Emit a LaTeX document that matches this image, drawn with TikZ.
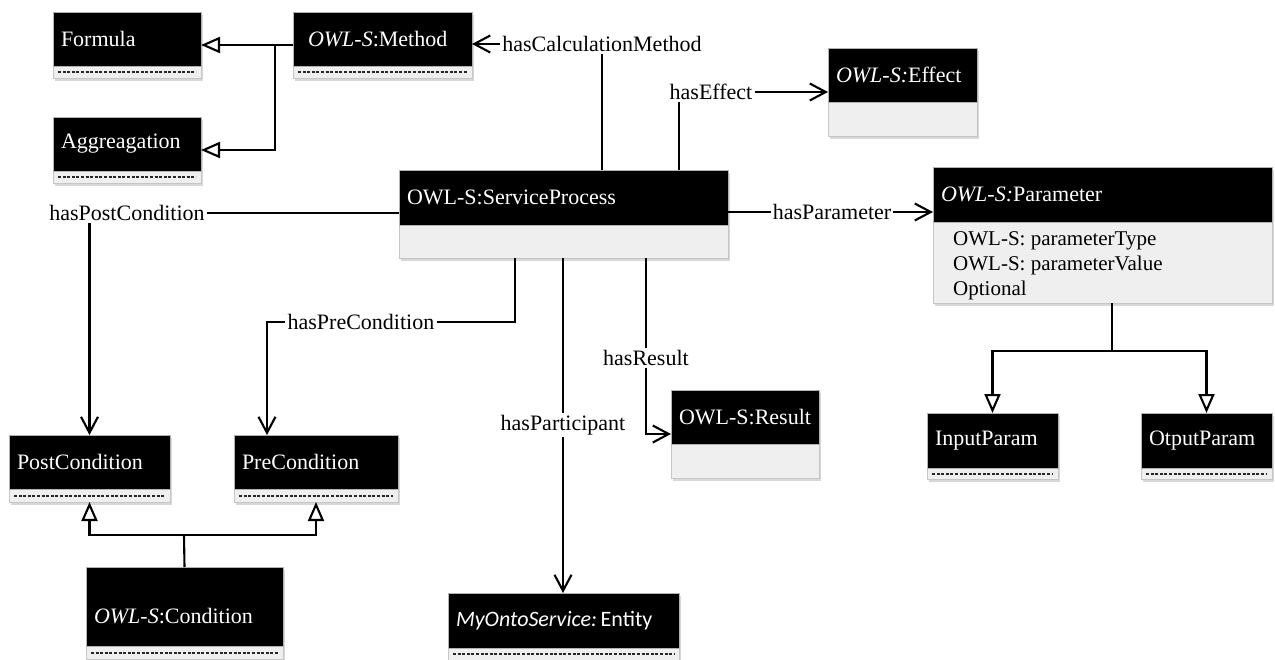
\documentclass[tikz,border=0pt]{standalone}
\usepackage{fontspec}
\setmainfont{Liberation Serif}
\newfontfamily\calibrifont{Carlito}
\usetikzlibrary{arrows.meta,shadows}

\definecolor{compfill}{HTML}{EFEFEF}

\tikzset{
  classbox/.style={draw=gray!45, line width=0.8pt, fill=compfill, inner sep=0pt, outer sep=0pt,
    drop shadow={shadow xshift=1.5pt, shadow yshift=-2.5pt, opacity=0.3}},
  classhead/.style={fill=black, draw=gray!60, line width=0.8pt, text=white, outer sep=0pt,
    inner ysep=0pt, align=left, font=\fontsize{22}{26}\selectfont},
  headextra/.style={},
  dashrow/.style={draw=black!85, line width=2pt, dash pattern=on 3pt off 1.6pt},
  conn/.style={draw=black, line width=2.1pt},
  assoc/.style={conn, -{Straight Barb[length=16pt,width=17pt]}},
  gen/.style={conn, -{Triangle[open,length=19pt,width=16pt,fill=white]}},
  rolelabel/.style={font=\fontsize{22}{26}\selectfont, inner sep=2pt, text=black},
  attrtext/.style={font=\fontsize{21}{25}\selectfont, inner sep=0pt, align=left, anchor=north west},
}

% class box: [title inset]{name}{x}{y}{width}{header height}{compartment height}{title}
\newcommand\umlclass[8][8]{%
  \pgfmathsetmacro\umlboxh{#6+#7}%
  \pgfmathsetmacro\umltextw{#5-2*#1}%
  \node[classbox, minimum width=#5pt, minimum height=\umlboxh pt, anchor=north west] (#2) at (#3,#4) {};
  \node[classhead, headextra, minimum width=#5pt, minimum height=#6pt, text width=\umltextw pt,
    inner xsep=#1pt, anchor=north west] (#2-h) at (#2.north west) {#8};
  \node[inner sep=0pt, outer sep=0pt, minimum width=#5pt, minimum height=#7pt,
    anchor=north west] (#2-c) at (#2-h.south west) {};
}
% empty attribute compartment drawn as a dashed rule
\newcommand\dashrow[1]{\draw[dashrow] ([xshift=5pt]#1-c.west) -- ([xshift=-5pt]#1-c.east);}

\begin{document}
\begin{tikzpicture}[x=1pt,y=-1pt]
\useasboundingbox (0,0) rectangle (1275,659);
\fill[white] (0,0) rectangle (1275,659);

% classes
\umlclass{formula}{53}{12}{148}{54}{12}{Formula}
\umlclass[15]{method}{293}{12}{179}{54}{12}{\textit{OWL-S}:Method}
\umlclass{aggregation}{53}{117}{148}{54}{12}{Aggreagation}
\umlclass{effect}{828}{48}{149}{54}{34}{\textit{OWL-S:}Effect}
\umlclass{sp}{399}{170}{329}{55}{33}{OWL-S:ServiceProcess}
\umlclass{param}{933}{167}{339}{55}{81}{\textit{OWL-S:}Parameter}
\umlclass{result}{671}{390}{148}{54}{34}{OWL-S:Result}
\umlclass{postcond}{9}{435}{161}{54}{13}{PostCondition}
\umlclass{precond}{234}{435}{164}{54}{13}{PreCondition}
\begin{scope}[headextra/.style={text height=38pt, text depth=4pt}]
\umlclass{condition}{86}{567}{197}{79}{13}{\textit{OWL-S}:Condition}
\end{scope}
\umlclass{entity}{448}{593}{231}{55}{12}{\calibrifont\textit{MyOntoService:}\,Entity}
\umlclass{input}{927}{413}{131}{55}{11}{InputParam}
\umlclass{output}{1141}{413}{131}{55}{11}{OtputParam}

\dashrow{formula}
\dashrow{method}
\dashrow{aggregation}
\dashrow{postcond}
\dashrow{precond}
\dashrow{condition}
\dashrow{entity}
\dashrow{input}
\dashrow{output}

% attributes of Parameter
\node[attrtext] (param-attr) at ([xshift=20pt, yshift=-9pt]param-c.north west)
  {OWL-S: parameterType\\OWL-S: parameterValue\\Optional};

% role labels
\node[rolelabel] (lcalc) at (602,44) {hasCalculationMethod};
\node[rolelabel] (leff)  at (711,92) {hasEffect};
\node[rolelabel] (lpar)  at (832,212) {hasParameter};
\node[rolelabel] (lpost) at (127,213) {hasPostCondition};
\node[rolelabel] (lpre)  at (361,322) {hasPreCondition};
\node[rolelabel] (lpart) at (563,425) {hasParticipant};
\node[rolelabel] (lres)  at (646,358) {hasResult};

% bend and junction points
\coordinate (effx)   at (679,0);
\coordinate (prex)   at (515,0);
\coordinate (prearr) at (267,0);
\coordinate (mj)     at (275,45);
\coordinate (pj)     at (1112,351);
\coordinate (cj)     at (184,535);

% associations
\draw[conn]  (lcalc.south |- sp.north) -- (lcalc.south);
\draw[assoc] (lcalc.west) -- (lcalc.west -| method.east);
\draw[conn]  (sp.north -| effx) -- (leff.south -| effx);
\draw[assoc] (leff.east) -- (leff.east -| effect.west);
\draw[conn]  (lpar.west -| sp.east) -- (lpar.west);
\draw[assoc] (lpar.east) -- (lpar.east -| param.west);
\draw[conn]  (lpost.east) -- (lpost.east -| sp.west);
\draw[assoc] (lpost.south -| postcond.north) -- (postcond.north);
\draw[conn]  (sp.south -| prex) |- (lpre.east);
\draw[assoc] (lpre.west) -| (precond.north -| prearr);
\draw[conn]  (sp.south -| lpart.north) -- (lpart.north);
\draw[assoc] (lpart.south) -- (lpart.south |- entity.north);
\draw[conn]  (sp.south -| lres.north) -- (lres.north);
\draw[assoc] (lres.south) |- (result.west);

% generalizations
\draw[gen]  (method.west) -- (formula.east);
\draw[gen]  (mj) |- (aggregation.east);
\draw[conn] (param.south -| pj) -- (pj);
\draw[gen]  (pj) -| (input.north);
\draw[gen]  (pj) -| (output.north);
\draw[conn] (condition.north) -- (cj);
\draw[gen]  (cj) -| (postcond.south);
\draw[gen]  (cj) -| (precond.south);
\end{tikzpicture}
\end{document}
